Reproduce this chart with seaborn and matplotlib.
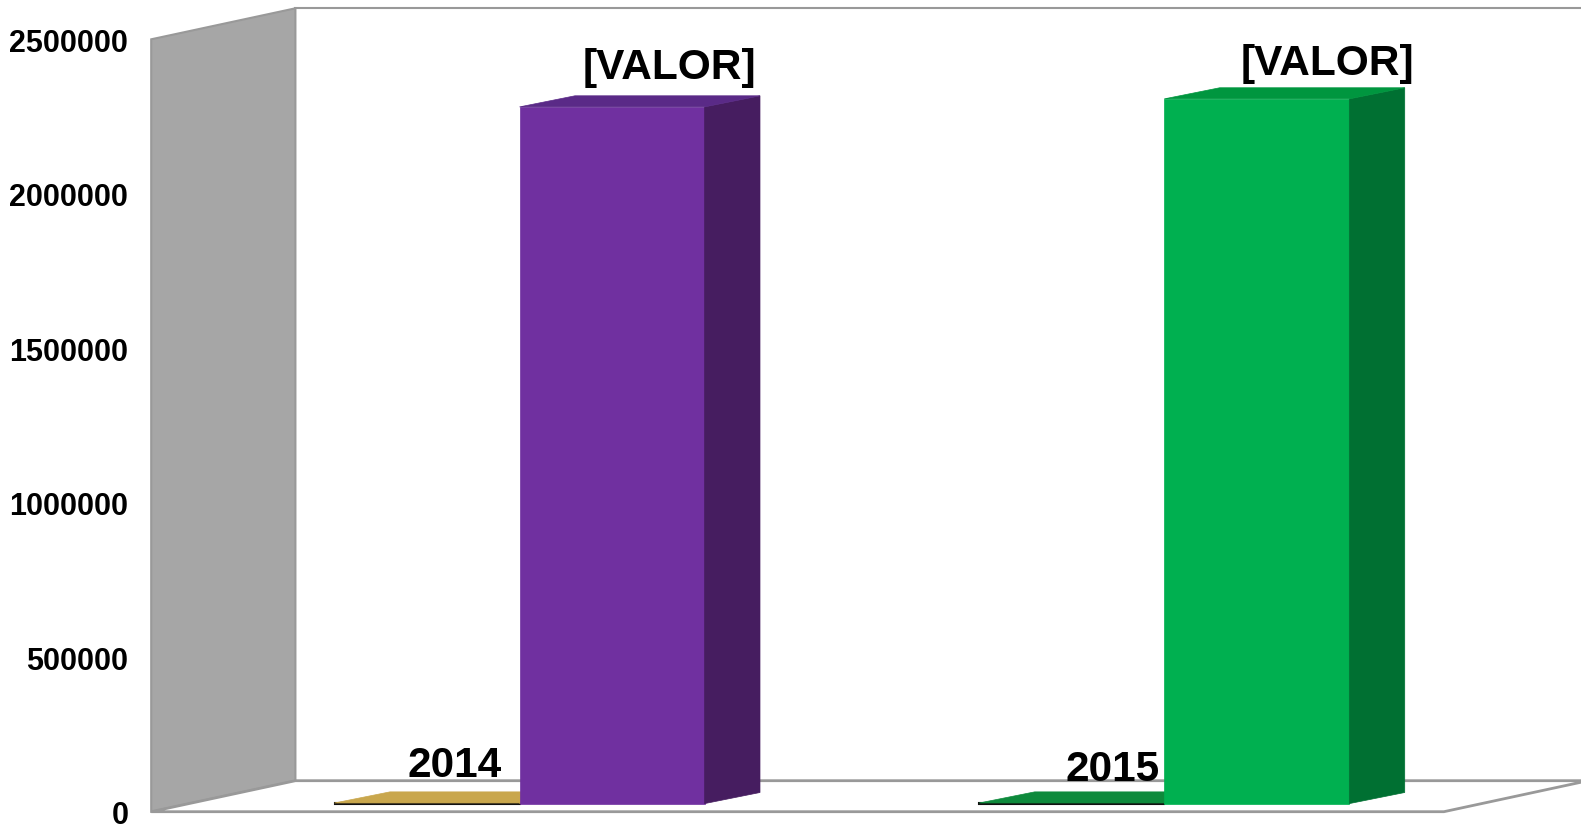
import matplotlib
matplotlib.use('Agg')
import pandas as pd
import matplotlib.pyplot as plt
import seaborn as sns
from matplotlib.patches import Polygon
from matplotlib.transforms import IdentityTransform

# Data
years = ['2014', '2015']
serie_a = [2014, 2015]            # tiny bars, labelled with their value
serie_b = [2255000, 2281000]      # tall bars, labelled "[VALOR]"
label_b = '[VALOR]'
yticks = [0, 500000, 1000000, 1500000, 2000000, 2500000]

# colours per bar: (front, side, top)
colors = {
    ('A', '2014'): ('#B8963F', '#8F7430', '#C9A74D'),
    ('A', '2015'): ('#0A7A34', '#065E28', '#0E8A3C'),
    ('B', '2014'): ('#7030A0', '#461D60', '#5A2A87'),
    ('B', '2015'): ('#00B050', '#007032', '#00963F'),
}

df = pd.DataFrame({
    'year': years * 2,
    'serie': ['A'] * len(years) + ['B'] * len(years),
    'valor': serie_a + serie_b,
})

DPI = 100
fig = plt.figure(figsize=(15.81, 8.29), dpi=DPI)
W, H = 1581, 829
# axes = front plane of the 3D box
ax = fig.add_axes([151.2 / W, 16.3 / H, (1443.9 - 151.2) / W, 772.4 / H])
ax.patch.set_visible(False)

sns.barplot(data=df, x='year', y='valor', hue='serie', width=0.574,
            dodge=True, legend=False, ax=ax, errorbar=None)
ax.set_xlim(-0.513, 1.492)
ax.set_ylim(0, 2500000)
ax.set_yticks(yticks)
ax.set_yticklabels([str(t) for t in yticks])
ax.set_xticks([])
ax.set_xlabel('')
ax.set_ylabel('')
for s in ax.spines.values():
    s.set_visible(False)
ax.tick_params(axis='y', length=0, pad=16.5)
for lab in ax.get_yticklabels():
    lab.set_fontfamily('Liberation Sans')
    lab.set_fontweight('bold')
    lab.set_fontsize(22)

fig.canvas.draw()
T = ax.transData
ident = IdentityTransform()

# depth offsets in display pixels
wall_dx, wall_dy = 144.2, 31.0
bar_dx, bar_dy = 37.6, 8.1
deep_dx, deep_dy = 55.4, 11.1

x0, y0 = T.transform((ax.get_xlim()[0], 0))
x1, y1 = T.transform((ax.get_xlim()[1], ax.get_ylim()[1]))
edge = '#999999'

# back wall
ax.add_patch(Polygon([(x0 + wall_dx, y0 + wall_dy), (W + 50, y0 + wall_dy),
                      (W + 50, y1 + wall_dy), (x0 + wall_dx, y1 + wall_dy)],
                     closed=True, facecolor='white', edgecolor=edge, lw=1.5,
                     transform=ident, clip_on=False, zorder=0))
# side wall
ax.add_patch(Polygon([(x0, y0), (x0, y1), (x0 + wall_dx, y1 + wall_dy),
                      (x0 + wall_dx, y0 + wall_dy)],
                     closed=True, facecolor='#A6A6A6', edgecolor=edge, lw=1.5,
                     transform=ident, clip_on=False, zorder=0.5))
# floor
ax.add_patch(Polygon([(x0, y0), (x1, y0), (x1 + wall_dx, y0 + wall_dy),
                      (x0 + wall_dx, y0 + wall_dy)],
                     closed=True, facecolor='white', edgecolor=edge, lw=2,
                     transform=ident, clip_on=False, zorder=0.6))

# label placement per group (pixels): extra shift right / down
lbl_shift = [(37, 7), (50, 11)]

# 3D bars built from the seaborn patches
series = ['A', 'B']
z = 2
for cont in ax.containers:
    for bar in cont:
        bar.set_visible(False)
for yi, yr in enumerate(years):
    for ci, sname in enumerate(series):
        bar = ax.containers[ci][yi]
        bx, bw, bh = bar.get_x(), bar.get_width(), bar.get_height()
        (lx, by), = T.transform([(bx, 0)])
        (rx, ty), = T.transform([(bx + bw, bh)])
        lx += bar_dx; rx += bar_dx; by += bar_dy; ty += bar_dy
        front, side, top = colors[(sname, yr)]
        thin = bh < 10000
        ax.add_patch(Polygon([(lx, by), (rx, by), (rx, ty), (lx, ty)], closed=True,
                             facecolor=front, edgecolor='#111111' if thin else front,
                             lw=1.5 if thin else 0.5,
                             transform=ident, clip_on=False, zorder=z))
        ax.add_patch(Polygon([(rx, by), (rx + deep_dx, by + deep_dy),
                              (rx + deep_dx, ty + deep_dy), (rx, ty)], closed=True,
                             facecolor=side, edgecolor=side, lw=0.5,
                             transform=ident, clip_on=False, zorder=z))
        ax.add_patch(Polygon([(lx, ty), (rx, ty), (rx + deep_dx, ty + deep_dy),
                              (lx + deep_dx, ty + deep_dy)], closed=True,
                             facecolor=top, edgecolor=top, lw=0.5,
                             transform=ident, clip_on=False, zorder=z))
        z += 1
        if sname == 'A':
            txt, off = str(serie_a[yi]), (28, 14)
        else:
            txt, off = label_b, (58, 16)
        sx, sy = lbl_shift[yi]
        cx = bx + bw / 2
        ax.annotate(txt, (cx, bh),
                    xytext=(off[0] + sx, bar_dy + deep_dy + off[1] - sy),
                    textcoords='offset pixels', ha='center', va='bottom',
                    fontsize=30.5, fontweight='bold', family='Liberation Sans',
                    color='black', annotation_clip=False, zorder=20)

fig.savefig('out.png', dpi=DPI)
